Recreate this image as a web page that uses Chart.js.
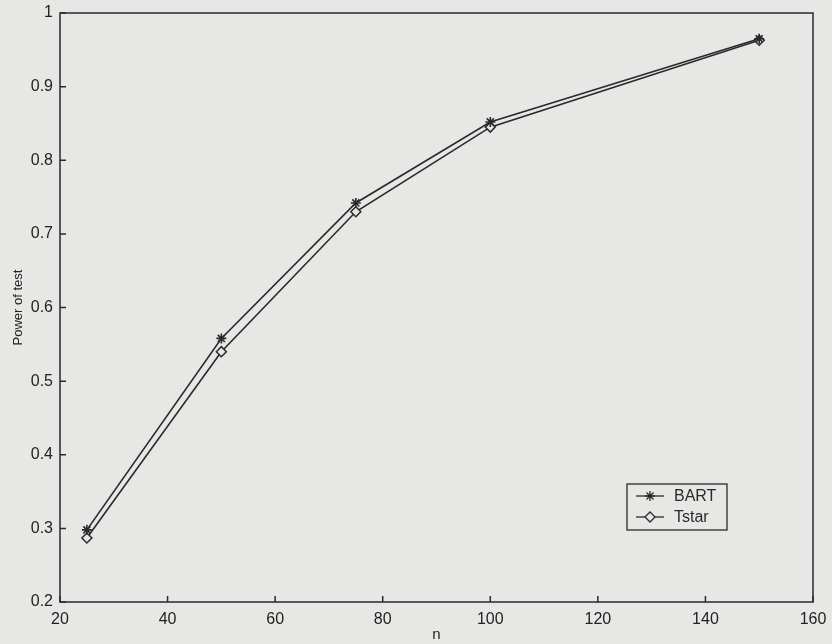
<!DOCTYPE html>
<html lang="en">
<head>
    <meta charset="UTF-8">
    <title>Power of test vs n</title>
    <script src="https://cdn.jsdelivr.net/npm/chart.js"></script>
    <style>
        html, body { margin: 0; padding: 0; background: #e7e7e5; }
        #wrap { width: 832px; height: 644px; }
    </style>
</head>
<body>
    <div id="wrap"><canvas id="powerChart" width="832" height="644"></canvas></div>

    <script>
        // sample sizes and power values
        const nValues = [25, 50, 75, 100, 150];
        const bartPower = [0.298, 0.558, 0.742, 0.852, 0.965];
        const tstarPower = [0.287, 0.540, 0.730, 0.845, 0.963];
        const xTicks = [20, 40, 60, 80, 100, 120, 140, 160];
        const yTicks = [0.2, 0.3, 0.4, 0.5, 0.6, 0.7, 0.8, 0.9, 1];

        const ink = '#2a2a2a';
        const paper = '#e7e7e5';
        const font = 'Liberation Sans, Arial, sans-serif';

        function toPoints(ys) {
            return nValues.map((n, i) => ({ x: n, y: ys[i] }));
        }

        // paper background + axes box + inward ticks + legend box
        const framePlugin = {
            id: 'frame',
            beforeDraw(chart) {
                const ctx = chart.ctx;
                ctx.save();
                ctx.fillStyle = paper;
                ctx.fillRect(0, 0, chart.width, chart.height);
                ctx.restore();
            },
            afterDatasetsDraw(chart) {
                const ctx = chart.ctx;
                const a = chart.chartArea;
                const xs = chart.scales.x, ys = chart.scales.y;
                ctx.save();
                ctx.strokeStyle = ink;
                ctx.lineWidth = 1.5;
                ctx.strokeRect(a.left, a.top, a.right - a.left, a.bottom - a.top);
                ctx.beginPath();
                xTicks.forEach(v => {
                    const px = xs.getPixelForValue(v);
                    ctx.moveTo(px, a.bottom); ctx.lineTo(px, a.bottom - 6);
                });
                yTicks.forEach(v => {
                    const py = ys.getPixelForValue(v);
                    ctx.moveTo(a.left, py); ctx.lineTo(a.left + 6, py);
                });
                ctx.stroke();

                // legend in lower right, inside the axes
                const bx = 627, by = 484, bw = 100, bh = 46;
                ctx.lineWidth = 1.3;
                ctx.strokeRect(bx, by, bw, bh);
                ctx.font = '16px ' + font;
                ctx.textBaseline = 'middle';
                chart.data.datasets.forEach((ds, i) => {
                    const y = by + 12 + i * 21;
                    ctx.strokeStyle = ink;
                    ctx.lineWidth = 1.3;
                    ctx.beginPath();
                    ctx.moveTo(bx + 9, y); ctx.lineTo(bx + 37, y);
                    ctx.stroke();
                    ctx.fillStyle = ds.backgroundColor;
                    Chart.helpers.drawPoint(ctx, {
                        pointStyle: ds.pointStyle, radius: ds.pointRadius,
                        borderWidth: 1.3, rotation: 0
                    }, bx + 23, y);
                    ctx.fillStyle = ink;
                    ctx.fillText(ds.label, bx + 47, y + 1);
                });
                ctx.restore();
            }
        };

        new Chart(document.getElementById('powerChart'), {
            type: 'line',
            data: {
                datasets: [
                    {
                        label: 'BART',
                        data: toPoints(bartPower),
                        borderColor: ink,
                        backgroundColor: ink,
                        borderWidth: 1.6,
                        pointStyle: 'star',
                        pointRadius: 5,
                        pointBorderWidth: 1.6,
                        tension: 0
                    },
                    {
                        label: 'Tstar',
                        data: toPoints(tstarPower),
                        borderColor: ink,
                        backgroundColor: paper,
                        borderWidth: 1.6,
                        pointStyle: 'rectRot',
                        pointRadius: 5,
                        pointBorderWidth: 1.5,
                        tension: 0
                    }
                ]
            },
            options: {
                responsive: false,
                animation: false,
                layout: { padding: { top: 13, right: 19, left: 0, bottom: 0 } },
                plugins: { legend: { display: false }, tooltip: { enabled: false } },
                scales: {
                    x: {
                        type: 'linear',
                        min: 20, max: 160,
                        afterBuildTicks: s => { s.ticks = xTicks.map(v => ({ value: v })); },
                        afterFit: s => { s.height = 42; s.paddingRight = 0; s.paddingLeft = 0; },
                        grid: { display: false, drawTicks: false },
                        border: { display: false },
                        ticks: { color: '#222', font: { family: font, size: 16 }, padding: 8, maxRotation: 0 },
                        title: { display: true, text: 'n', color: '#222', font: { family: font, size: 15 }, padding: { top: 0, bottom: 0 } }
                    },
                    y: {
                        min: 0.2, max: 1,
                        afterBuildTicks: s => { s.ticks = yTicks.map(v => ({ value: v })); },
                        afterFit: s => { s.width = 60; s.paddingTop = 0; s.paddingBottom = 0; },
                        grid: { display: false, drawTicks: false },
                        border: { display: false },
                        ticks: { color: '#222', font: { family: font, size: 16 }, padding: 7, callback: v => String(Math.round(v * 10) / 10) },
                        title: { display: true, text: 'Power of test', color: '#222', font: { family: font, size: 13 }, padding: { top: 11, bottom: 0 } }
                    }
                }
            },
            plugins: [framePlugin]
        });
    </script>
</body>
</html>
